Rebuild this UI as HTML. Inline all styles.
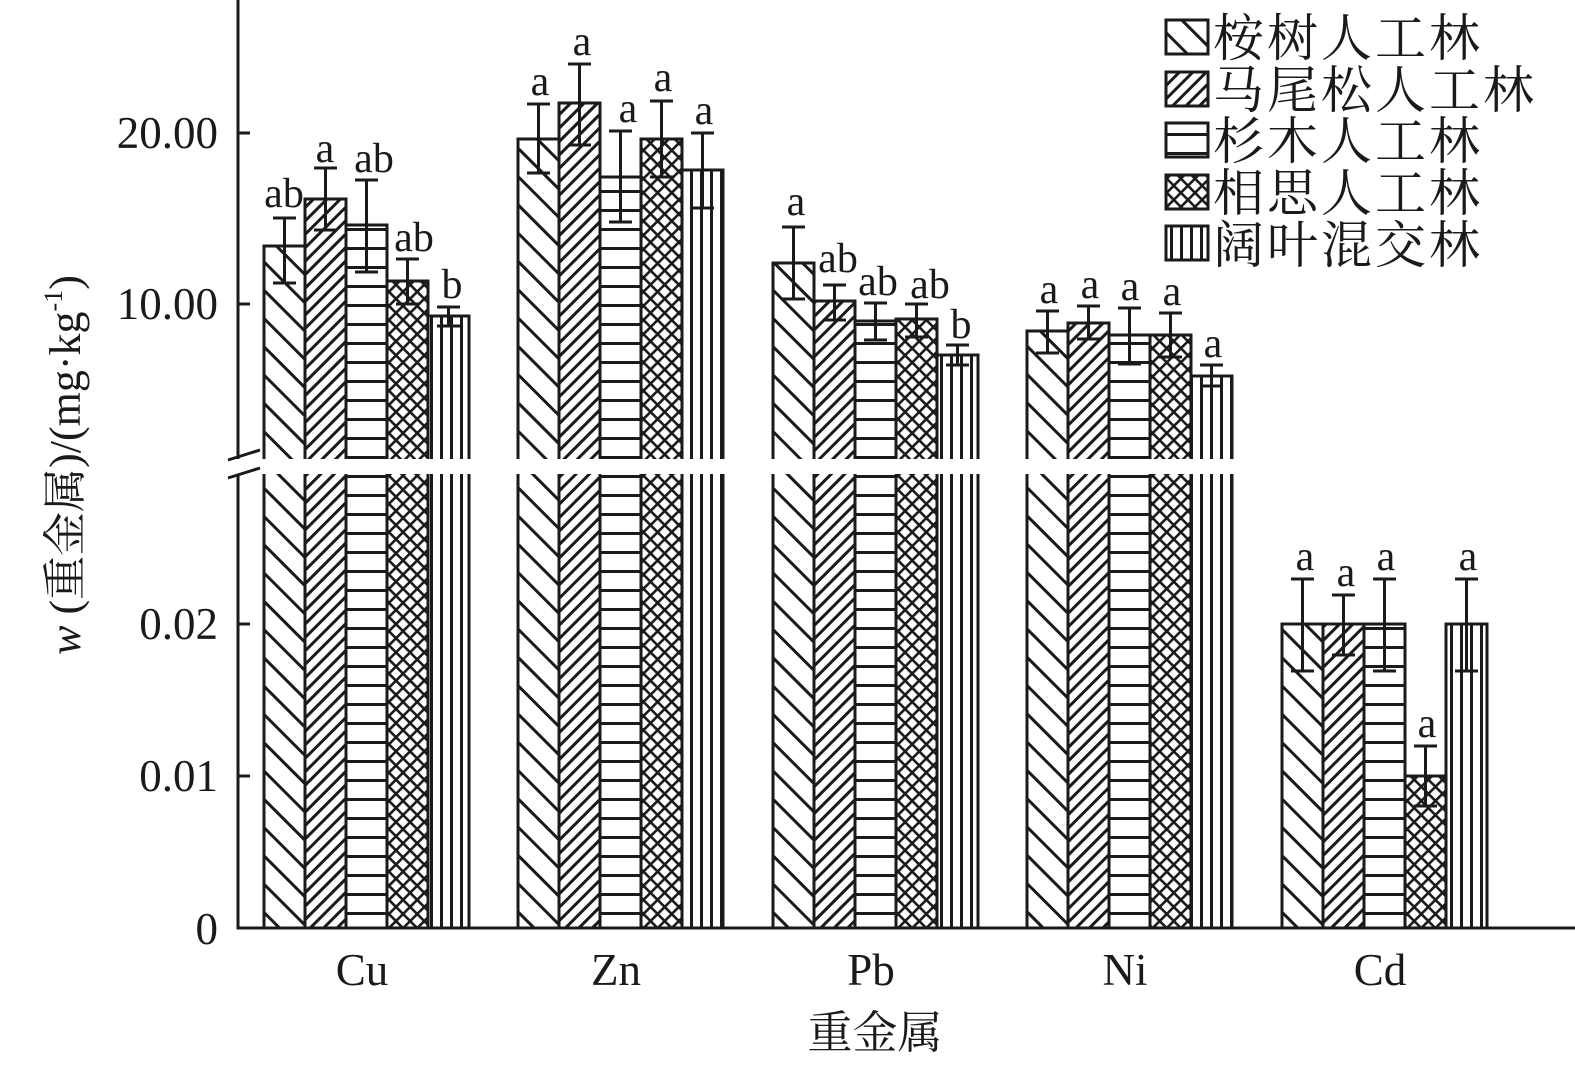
<!DOCTYPE html>
<html><head><meta charset="utf-8"><style>
html,body{margin:0;padding:0;background:#fff}
svg{display:block}
text{font-family:"Liberation Serif","Noto Serif CJK SC",serif;fill:#1a1a1a}
</style></head><body>
<svg width="1575" height="1069" viewBox="0 0 1575 1069" xmlns="http://www.w3.org/2000/svg">
<defs>
<pattern id="p1" patternUnits="userSpaceOnUse" width="20" height="20" patternTransform="rotate(-45)"><rect width="20" height="20" fill="#fff"/><rect x="0" y="0" width="3" height="20" fill="#1a1a1a"/></pattern>
<pattern id="p2" patternUnits="userSpaceOnUse" width="9.5" height="20" patternTransform="rotate(45)"><rect width="9.5" height="20" fill="#fff"/><rect x="0" y="0" width="3" height="20" fill="#1a1a1a"/></pattern>
<pattern id="p3" patternUnits="userSpaceOnUse" width="20" height="19"><rect width="20" height="19" fill="#fff"/><rect x="0" y="0" width="20" height="3" fill="#1a1a1a"/></pattern>
<pattern id="p4" patternUnits="userSpaceOnUse" width="10" height="10" patternTransform="rotate(45)"><rect width="10" height="10" fill="#fff"/><rect x="0" y="0" width="2.6" height="10" fill="#1a1a1a"/><rect x="0" y="0" width="10" height="2.6" fill="#1a1a1a"/></pattern>
<pattern id="p5" patternUnits="userSpaceOnUse" width="10" height="20"><rect width="10" height="20" fill="#fff"/><rect x="0" y="0" width="3" height="20" fill="#1a1a1a"/></pattern>
</defs>
<g stroke="#1a1a1a" stroke-width="3">
<rect x="264" y="246" width="41" height="682" fill="url(#p1)"/>
<rect x="305" y="199" width="41" height="729" fill="url(#p2)"/>
<rect x="346" y="225" width="41" height="703" fill="url(#p3)"/>
<rect x="387" y="281" width="41" height="647" fill="url(#p4)"/>
<rect x="428" y="316" width="41" height="612" fill="url(#p5)"/>
<rect x="518" y="139" width="41" height="789" fill="url(#p1)"/>
<rect x="559" y="103" width="41" height="825" fill="url(#p2)"/>
<rect x="600" y="177" width="41" height="751" fill="url(#p3)"/>
<rect x="641" y="139" width="41" height="789" fill="url(#p4)"/>
<rect x="682" y="170" width="41" height="758" fill="url(#p5)"/>
<rect x="773" y="263" width="41" height="665" fill="url(#p1)"/>
<rect x="814" y="301" width="41" height="627" fill="url(#p2)"/>
<rect x="855" y="321" width="41" height="607" fill="url(#p3)"/>
<rect x="896" y="319" width="41" height="609" fill="url(#p4)"/>
<rect x="937" y="355" width="41" height="573" fill="url(#p5)"/>
<rect x="1027" y="331" width="41" height="597" fill="url(#p1)"/>
<rect x="1068" y="323" width="41" height="605" fill="url(#p2)"/>
<rect x="1109" y="335" width="41" height="593" fill="url(#p3)"/>
<rect x="1150" y="335" width="41" height="593" fill="url(#p4)"/>
<rect x="1191" y="376" width="41" height="552" fill="url(#p5)"/>
<rect x="1282" y="624" width="41" height="304" fill="url(#p1)"/>
<rect x="1323" y="624" width="41" height="304" fill="url(#p2)"/>
<rect x="1364" y="624" width="41" height="304" fill="url(#p3)"/>
<rect x="1405" y="776" width="41" height="152" fill="url(#p4)"/>
<rect x="1446" y="624" width="41" height="304" fill="url(#p5)"/>
</g>
<g stroke="#1a1a1a" stroke-width="3" fill="none">
<path d="M284.5 218V283M273 218H296M273 283H296"/>
<path d="M325.5 168V230M314 168H337M314 230H337"/>
<path d="M366.5 180V272M355 180H378M355 272H378"/>
<path d="M407.5 259V304M396 259H419M396 304H419"/>
<path d="M448.5 307V326M437 307H460M437 326H460"/>
<path d="M538.5 104V173M527 104H550M527 173H550"/>
<path d="M579.5 64V145M568 64H591M568 145H591"/>
<path d="M620.5 131V222M609 131H632M609 222H632"/>
<path d="M661.5 101V177M650 101H673M650 177H673"/>
<path d="M702.5 133V208M691 133H714M691 208H714"/>
<path d="M793.5 227V299M782 227H805M782 299H805"/>
<path d="M834.5 285V320M823 285H846M823 320H846"/>
<path d="M875.5 303V340M864 303H887M864 340H887"/>
<path d="M916.5 304V337M905 304H928M905 337H928"/>
<path d="M957.5 345V365M946 345H969M946 365H969"/>
<path d="M1047.5 311V353M1036 311H1059M1036 353H1059"/>
<path d="M1088.5 306V339M1077 306H1100M1077 339H1100"/>
<path d="M1129.5 308V364M1118 308H1141M1118 364H1141"/>
<path d="M1170.5 313V357M1159 313H1182M1159 357H1182"/>
<path d="M1211.5 365V386M1200 365H1223M1200 386H1223"/>
<path d="M1302.5 579V671M1291 579H1314M1291 671H1314"/>
<path d="M1343.5 595V655M1332 595H1355M1332 655H1355"/>
<path d="M1384.5 579V671M1373 579H1396M1373 671H1396"/>
<path d="M1425.5 746V806M1414 746H1437M1414 806H1437"/>
<path d="M1466.5 579V671M1455 579H1478M1455 671H1478"/>
</g>
<rect x="239" y="459" width="1000" height="15" fill="#fff"/>
<g stroke="#1a1a1a" stroke-width="3" fill="none">
<path d="M238 0V459M238 474V928H1575"/>
<path d="M238 133H250M238 304H250M238 624H250M238 776H250"/>
<path d="M228 460L260 450M228 478L260 468"/>
</g>
<rect x="236" y="462" width="6" height="10" fill="#fff"/>
<g font-size="45" text-anchor="end">
<text x="218" y="148">20.00</text>
<text x="218" y="319">10.00</text>
<text x="218" y="639">0.02</text>
<text x="218" y="791">0.01</text>
<text x="218" y="944">0</text>
</g>
<g font-size="45" text-anchor="middle">
<text x="362" y="985">Cu</text>
<text x="616" y="985">Zn</text>
<text x="871" y="985">Pb</text>
<text x="1125" y="985">Ni</text>
<text x="1380" y="985">Cd</text>
<text x="875" y="1048">重金属</text>
</g>
<text transform="translate(80,465) rotate(-90)" font-size="44" text-anchor="middle"><tspan font-style="italic">w</tspan> (重金属)/(mg·kg<tspan font-size="26" dy="-18">-1</tspan><tspan dy="18">)</tspan></text>
<g font-size="42" text-anchor="middle">
<text x="284" y="207">ab</text>
<text x="325" y="162">a</text>
<text x="374" y="172">ab</text>
<text x="414" y="251">ab</text>
<text x="452" y="298">b</text>
<text x="540" y="95">a</text>
<text x="582" y="55">a</text>
<text x="628" y="122">a</text>
<text x="663" y="91">a</text>
<text x="704" y="124">a</text>
<text x="796" y="215">a</text>
<text x="838" y="272">ab</text>
<text x="878" y="295">ab</text>
<text x="930" y="298">ab</text>
<text x="961" y="338">b</text>
<text x="1049" y="303">a</text>
<text x="1090" y="298">a</text>
<text x="1130" y="300">a</text>
<text x="1172" y="305">a</text>
<text x="1213" y="357">a</text>
<text x="1305" y="570">a</text>
<text x="1346" y="586">a</text>
<text x="1386" y="570">a</text>
<text x="1427" y="737">a</text>
<text x="1468" y="570">a</text>
</g>
<g stroke="#1a1a1a" stroke-width="3">
<rect x="1166" y="20" width="42" height="34" fill="url(#p1)"/>
<rect x="1166" y="72" width="42" height="34" fill="url(#p2)"/>
<rect x="1166" y="123" width="42" height="34" fill="url(#p3)"/>
<rect x="1166" y="175" width="42" height="34" fill="url(#p4)"/>
<rect x="1166" y="226" width="42" height="34" fill="url(#p5)"/>
</g>
<g font-size="51" letter-spacing="3">
<text x="1213" y="56">桉树人工林</text>
<text x="1213" y="108">马尾松人工林</text>
<text x="1213" y="159">杉木人工林</text>
<text x="1213" y="211">相思人工林</text>
<text x="1213" y="263">阔叶混交林</text>
</g>
</svg>
</body></html>
